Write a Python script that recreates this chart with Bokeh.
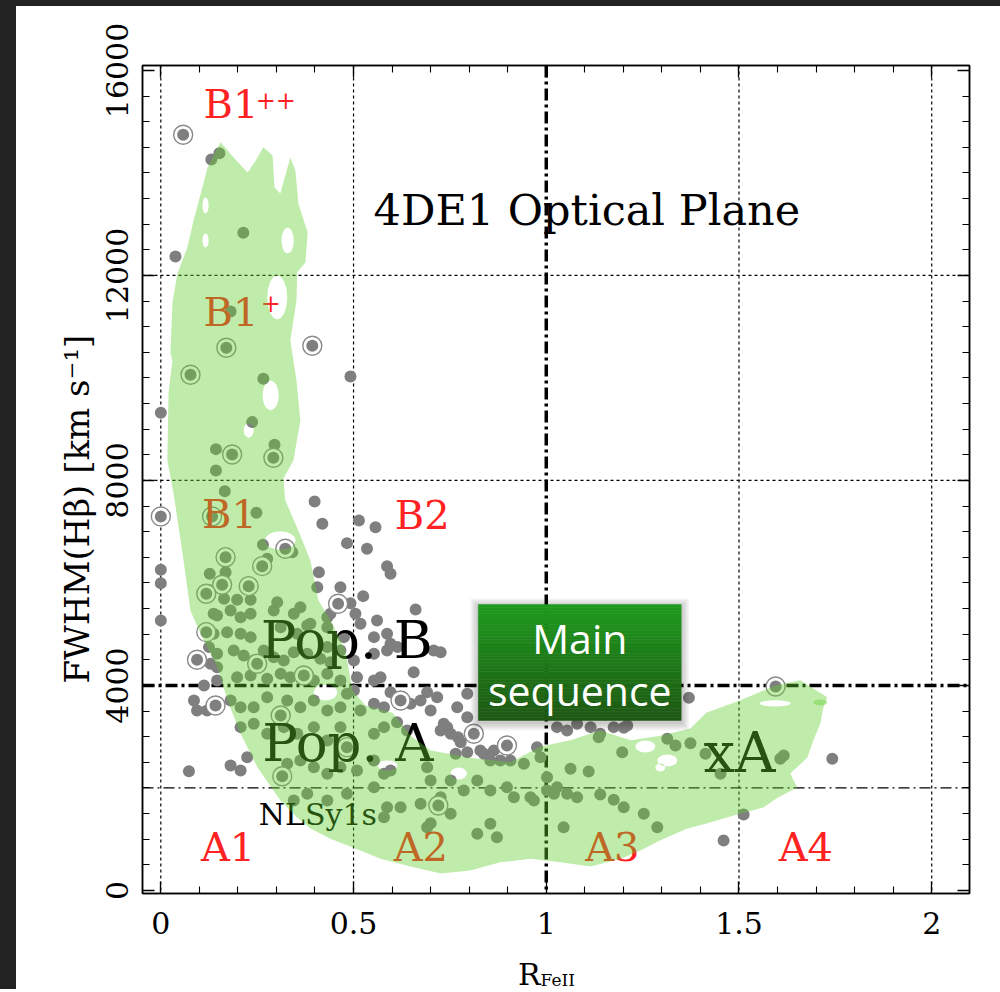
import numpy as np
from bokeh.plotting import figure
from bokeh.models import Range1d, LinearAxis, FixedTicker, Span, Spacer, Div, Title
from bokeh.layouts import column, row
from bokeh.embed import file_html
from bokeh.resources import INLINE
from bokeh.core.properties import value

# ---------------- data ----------------
# ordinary objects (R_FeII, FWHM Hbeta km/s)
pts_x = [0.131,0.152,0.214,0.038,0.181,0.266,0.492,0.000,0.237,0.295,0.143,0.143,0.166,0.399,0.248,
         0.419,0.514,0.557,0.483,0.535,0.265,0.341,0.276,0.587,0.596,0.410,0.000,0.000,0.127,0.168,
         0.406,0.466,0.525,0.129,0.164,0.198,0.233,0.302,0.492,0.000,0.440,0.505,0.661,0.561,0.388,
         0.345,0.137,0.146,0.181,0.207,0.233,0.293,0.362,0.432,0.518,0.380,0.137,0.172,0.207,0.233,
         0.311,0.354,0.432,0.475,0.553,0.587,0.596,0.708,0.726,0.614,0.125,0.146,0.129,0.146,0.189,
         0.215,0.241,0.267,0.293,0.319,0.345,0.380,0.414,0.432,0.466,0.501,0.553,0.587,0.656,0.570,
         0.440,0.112,0.146,0.198,0.233,0.276,0.311,0.336,0.397,0.432,0.466,0.509,0.553,0.483,0.501,
         0.596,0.648,0.691,0.717,0.769,0.795,0.674,0.795,0.734,0.086,0.094,0.120,0.181,0.207,0.241,
         0.276,0.328,0.362,0.397,0.432,0.466,0.518,0.553,0.579,0.207,0.241,0.276,0.319,0.354,0.397,
         0.432,0.466,0.553,0.579,0.613,0.639,0.700,0.743,0.771,0.829,0.864,0.907,0.942,0.976,0.985,
         1.054,1.080,1.115,0.726,0.752,0.778,0.765,0.795,0.881,0.855,0.838,0.073,0.181,0.207,0.224,
         0.328,0.362,0.397,0.432,0.466,0.509,0.553,0.579,0.345,0.380,0.432,0.483,0.553,0.587,0.596,
         0.691,0.700,0.726,0.752,0.786,0.821,0.855,0.898,0.916,0.959,1.002,1.028,1.080,0.691,0.622,
         0.579,0.821,0.855,0.872,0.752,1.045,0.674,0.700,1.370,1.136,1.201,1.197,1.314,1.335,1.374,
         1.413,1.452,1.063,1.110,1.140,1.175,1.201,1.253,1.288,1.460,1.512,1.607,1.616,1.742,1.028,
         1.140,1.175,1.210,0.968,1.002,1.020,1.054]
pts_y = [14263,14386,12833,12371,11297,9984,10029,9321,9138,8697,8611,8195,7791,7590,7370,
         7155,7219,7089,6777,6667,6745,6600,6471,6328,6180,6211,6257,5996,6180,6211,
         5918,5918,5743,5853,5691,5671,5671,5625,5606,5268,5399,5399,5483,5268,5204,
         5399,5399,5366,5463,5333,5399,5463,5528,5333,5204,5171,5008,5040,5008,4943,
         5138,5008,5138,4943,4943,5008,4814,4683,4650,4748,4748,4619,4424,4357,4683,
         4585,4488,4683,4552,4488,4650,4619,4520,4748,4683,4488,4619,4683,4259,4162,
         4455,4000,4098,4162,4195,4131,4228,4162,4098,4228,4098,4162,4098,3838,3902,
         3869,3643,3869,3772,3577,3838,3707,3382,3252,3707,3512,3512,3707,3577,3577,
         3772,3707,3577,3707,3512,3577,3512,3643,3577,3187,3252,3057,3187,3057,3187,
         2927,3187,3057,3187,3284,3122,3512,3187,2991,2732,2732,2537,2472,2796,2601,
         3122,3252,3187,3122,3057,2894,2667,2699,2537,2537,2667,2328,2439,2341,2601,
         2472,2537,2406,2276,2406,2341,2537,2276,1756,1887,1756,1887,2016,1626,2341,
         2406,2146,1820,2146,1951,2146,1951,2016,1820,1820,1951,2016,1820,1235,1626,
         1430,1106,1301,1040,1496,1235,1691,1310,3760,2991,3174,2699,2960,2829,2874,
         2667,2277,2374,2322,1873,1770,1626,1496,1235,976,1483,2570,2634,2570,3187,
         3057,3187,3220,1756,2211,1887,1887]

# circled objects
ring_x = [0.058,0.170,0.393,0.077,0.185,0.292,0.000,0.133,0.323,0.168,0.263,0.159,0.228,0.460,
          0.118,0.118,0.094,0.250,0.371,0.142,0.311,0.483,0.315,0.622,0.812,0.898,1.595,0.720]
ring_y = [14745,10589,10628,10062,8507,8443,7298,7298,6667,6503,6328,5965,5938,5594,
          5789,5040,4502,4424,4195,3610,3415,2796,2230,3707,3057,2829,3980,1659]

# density region outline
area_x = [0.155,0.189,0.225,0.246,0.266,0.290,0.295,0.310,0.336,0.349,0.357,0.381,0.375,0.354,0.352,
          0.336,0.352,0.362,0.344,0.318,0.323,0.357,0.388,0.409,0.440,0.479,0.497,0.531,0.601,0.648,
          0.700,0.803,0.907,0.985,1.063,1.140,1.219,1.296,1.374,1.415,1.504,1.594,1.659,1.729,1.719,
          1.711,1.693,1.677,1.633,1.651,1.600,1.563,1.504,1.418,1.366,1.296,1.244,1.193,1.115,1.037,
          0.959,0.881,0.803,0.726,0.648,0.570,0.505,0.440,0.388,0.349,0.310,0.251,0.207,0.173,0.147,
          0.103,0.077,0.059,0.033,0.017,0.020,0.030,0.025,0.030,0.043,0.069,0.085,0.108,0.121]
area_y = [14600,14300,14010,14240,14500,14340,13720,13600,14300,14050,13400,12840,12250,12060,11510,
          10730,9950,9170,8390,8040,7610,7020,6440,5660,5270,4680,3900,3610,3470,3020,
          2730,2590,2500,2810,2930,3120,2930,3020,3160,3470,3710,4000,4100,3770,3570,
          3260,2930,2590,2280,2010,1810,1620,1500,1310,1210,980,780,620,470,550,
          620,550,390,330,470,620,820,1010,1210,1460,1760,2400,3060,3710,4350,
          5010,5460,6440,7750,8390,9700,10340,10480,11450,12040,12550,13070,13720,14100]
# holes in the density region: centre x, centre y, half-width, half-height
hole_cx = [0.329,0.302,0.285,0.228,0.116,0.116,0.310,0.588,1.257,1.594,1.296,1.314,0.773,0.427]
hole_cy = [12680,11570,9660,8975,13365,12680,6830,2440,2810,3650,2400,2536,2283,3863]
hole_rx = [0.016,0.026,0.021,0.013,0.008,0.008,0.040,0.026,0.026,0.041,0.013,0.026,0.021,0.031]
hole_ry = [254,430,290,140,156,137,180,98,117,60,78,117,117,156]
island_cx = [1.711]
island_cy = [3668]
island_rx = [0.018]
island_ry = [59]

# texts (y = vertical centre of the lettering)
reg_text = ["B1", "B1", "B1", "B2", "A1", "A2", "A3", "A4"]
reg_x = [0.111, 0.111, 0.107, 0.607, 0.104, 0.604, 1.101, 1.603]
reg_y = [15351, 11289, 7338, 7332, 845, 845, 845, 845]
sup_text = ["++", "+"]
sup_x = [0.246, 0.259]
sup_y = [15430, 11460]
pop_text = ["Pop. B", "Pop. A"]
pop_x = [0.259, 0.263]
pop_y = [4899, 2890]

xticks = [0, 0.5, 1, 1.5, 2]
xtick_labels = ["0", "0.5", "1", "1.5", "2"]
yticks = [0, 4000, 8000, 12000, 16000]

SERIF = "DejaVu Serif"
RED = "#ff2222"

# ---------------- figure ----------------
p = figure(width=984, height=939, x_range=Range1d(-0.0475, 2.098), y_range=Range1d(-59, 16096),
           output_backend="svg", toolbar_location=None,
           min_border_left=126, min_border_right=31, min_border_top=59, min_border_bottom=52)
p.xgrid.visible = False
p.ygrid.visible = False
p.background_fill_color = "white"
p.border_fill_color = "white"
p.outline_line_color = "black"
p.outline_line_width = 1.5

xminor = [round(0.1 * i, 1) for i in range(0, 21)]
yminor = [500 * i for i in range(0, 33)]
xt = FixedTicker(ticks=xticks, minor_ticks=xminor)
yt = FixedTicker(ticks=yticks, minor_ticks=yminor)

def style_axis(ax, ticks, labels=None):
    ax.major_tick_in = 12
    ax.major_tick_out = 0
    ax.minor_tick_in = 7
    ax.minor_tick_out = 0
    ax.major_tick_line_width = 1.3
    ax.minor_tick_line_width = 1.1
    ax.axis_line_width = 1.5
    ax.major_tick_line_color = "black"
    ax.minor_tick_line_color = "black"
    ax.major_label_text_font = SERIF
    ax.major_label_text_font_size = "30px"
    ax.major_label_text_color = "black"
    if labels is None:
        ax.major_label_overrides = {t: "" for t in ticks}
        ax.major_label_standoff = 0
    else:
        ax.major_label_overrides = {t: s for t, s in zip(ticks, labels)}

p.xaxis.ticker = xt
p.yaxis.ticker = yt
style_axis(p.xaxis[0], xticks, xtick_labels)
style_axis(p.yaxis[0], yticks, [str(v) for v in yticks])
p.xaxis.major_label_standoff = 18
p.yaxis.major_label_orientation = "vertical"
p.yaxis.major_label_standoff = 14

ax_top = LinearAxis(ticker=xt)
style_axis(ax_top, xticks)
p.add_layout(ax_top, "above")
ax_right = LinearAxis(ticker=yt)
style_axis(ax_right, yticks)
p.add_layout(ax_right, "right")

# y-axis title
p.add_layout(Title(text="FWHM(Hβ) [km s⁻¹]", align="left", offset=210, text_font=SERIF,
                   text_font_size="34px", text_font_style="normal", text_color="black",
                   standoff=14), "left")

# reference lines
for xv in [0, 0.5, 1.5, 2]:
    p.add_layout(Span(location=xv, dimension="height", line_color="black", line_width=1.2,
                      line_dash="3 3", level="underlay"))
for yv in [8000, 12000]:
    p.add_layout(Span(location=yv, dimension="width", line_color="black", line_width=1.2,
                      line_dash="3 3", level="underlay"))
p.add_layout(Span(location=2000, dimension="width", line_color="black", line_width=1.2,
                  line_dash="11 4 2 4", level="underlay"))
p.add_layout(Span(location=4000, dimension="width", line_color="black", line_width=3.5,
                  line_dash="12 4 3 4", level="underlay"))
p.add_layout(Span(location=1, dimension="height", line_color="black", line_width=3.5,
                  line_dash="12 4 3 4", level="underlay"))

# points
p.scatter(pts_x, pts_y, size=12, fill_color="#7f7f7f", line_color=None)
p.scatter(ring_x, ring_y, size=19, fill_color="white", line_color="#8a8a8a", line_width=1.4)
p.scatter(ring_x, ring_y, size=12, fill_color="#7f7f7f", line_color=None)

# labels inside plot (drawn under the translucent density area)
def txt(x, y, s, size, color, font=SERIF, align="left"):
    p.text(x, y, text=s, text_font=value(font), text_font_size=size, text_color=color,
           text_align=align, text_baseline="middle")

txt(reg_x, reg_y, reg_text, "40px", RED)
txt(sup_x, sup_y, sup_text, "24px", RED)
txt(pop_x, pop_y, pop_text, "53px", "black")
txt([1.408], [2690], ["xA"], "56px", "black")
txt([0.254], [1483], ["NLSy1s"], "30px", "black")
txt([0.552], [13277], ["4DE1 Optical Plane"], "43px", "black")

# density area (translucent, drawn on top)
t = np.linspace(0, 2 * np.pi, 16, endpoint=False)
rings_x = [list(area_x)]
rings_y = [list(area_y)]
for cx, cy, rx, ry in zip(hole_cx, hole_cy, hole_rx, hole_ry):
    rings_x.append(list(cx + rx * np.cos(t)))
    rings_y.append(list(cy + ry * np.sin(t)))
polys_x = [[rings_x]]
polys_y = [[rings_y]]
for cx, cy, rx, ry in zip(island_cx, island_cy, island_rx, island_ry):
    polys_x.append([[list(cx + rx * np.cos(t))]])
    polys_y.append([[list(cy + ry * np.sin(t))]])
p.multi_polygons(xs=polys_x, ys=polys_y, fill_color="#5fcf2a", fill_alpha=0.4, line_color=None)

# "Main sequence" box with shadow and gradient
bl, br, bt, bb = 0.824, 1.350, 5580, 3317
px_x = 1 / 385.5
px_y = 16155 / 828
for k in range(1, 6):
    e = 1.6 * k
    p.quad(left=[bl - e * px_x], right=[br + e * px_x], top=[bt + (e - 2) * px_y],
           bottom=[bb - (e + 2) * px_y], fill_color="black", fill_alpha=0.045, line_color=None)
n = 40
edges = np.linspace(bt, bb, n + 1)
c0 = np.array([30, 156, 30])
c1 = np.array([30, 88, 20])
cols = []
for i in range(n):
    f = (i + 0.5) / n
    c = (c0 * (1 - f) + c1 * f).astype(int)
    cols.append("#%02x%02x%02x" % tuple(c))
p.quad(left=[bl] * n, right=[br] * n, top=list(edges[:-1]), bottom=list(edges[1:]),
       fill_color=cols, line_color=cols, line_width=0.5)
txt([1.087, 1.087], [4917, 3902], ["Main", "sequence"], "41px", "white", font="Open Sans",
    align="center")

# x-axis title with subscript
xlab = Div(text=('<div style="font-family:\'DejaVu Serif\';font-size:30px;line-height:30px;'
                 'padding-left:502px;padding-top:15px;color:black;white-space:nowrap">R'
                 '<span style="font-size:17px;position:relative;top:1px">FeII</span></div>'),
           width=984, height=44, margin=0)

dark = "#232323"
top_bar = Spacer(width=1000, height=6, margin=0, styles={"background-color": dark})
left_bar = Spacer(width=16, height=983, margin=0, styles={"background-color": dark})
layout = column(top_bar, row(left_bar, column(p, xlab, spacing=0), spacing=0), spacing=0)

open("out.html", "w").write(file_html(layout, INLINE))
